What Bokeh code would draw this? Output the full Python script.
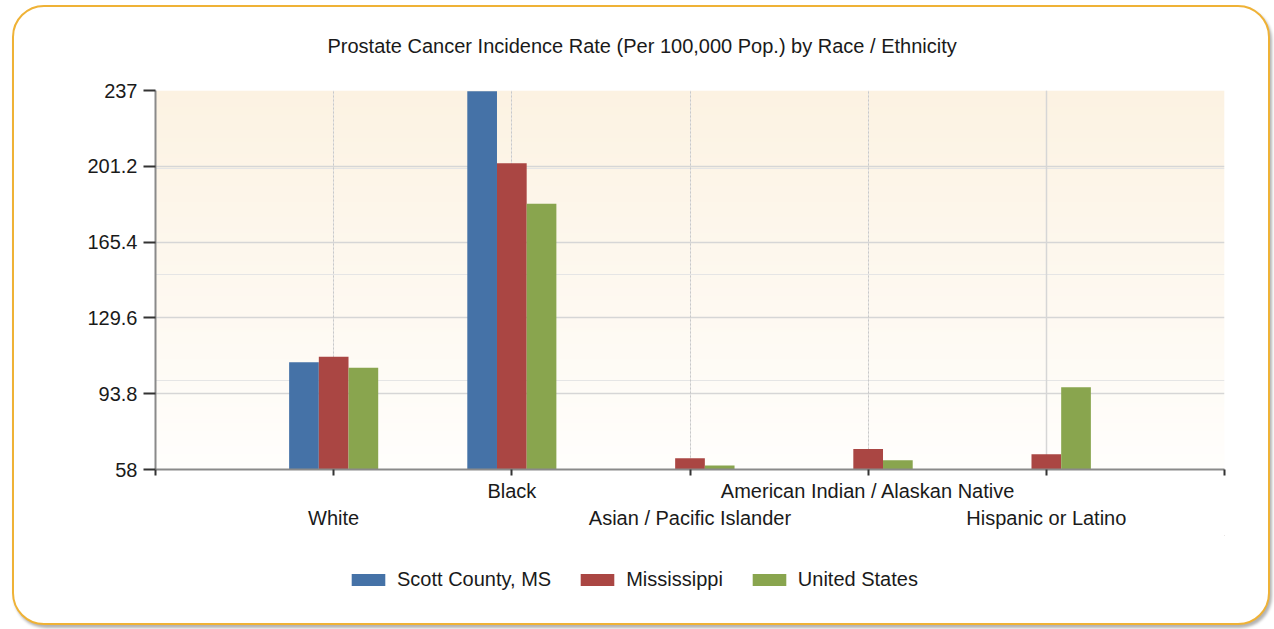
import numpy as np
from bokeh.plotting import figure
from bokeh.layouts import column
from bokeh.models import (Range1d, FixedTicker, LinearAxis, Grid, Legend, LegendItem,
                          ColumnDataSource, CustomJSTickFormatter, Label)
from bokeh.embed import file_html
from bokeh.resources import INLINE

# ---------------- data ----------------
title_text = "Prostate Cancer Incidence Rate (Per 100,000 Pop.) by Race / Ethnicity"
categories = ["White", "Black", "Asian / Pacific Islander",
              "American Indian / Alaskan Native", "Hispanic or Latino"]
series_names = ["Scott County, MS", "Mississippi", "United States"]
scott_county = [108.6, 236.6, np.nan, np.nan, np.nan]
mississippi = [111.3, 202.6, 63.3, 67.7, 65.2]
united_states = [106.1, 183.5, 59.9, 62.4, 96.9]
y_ticks = [58, 93.8, 129.6, 165.4, 201.2, 237]
colors = ["#4572a7", "#aa4643", "#89a54e"]

FONT = "Liberation Sans"
TXT = "#1a1a1a"

n = len(categories)
positions = list(range(1, n + 1))

W = 1254
H0 = 62
H1 = 466
H2 = 88


def blank_strip(height):
    f = figure(width=W, height=height, output_backend="svg", toolbar_location=None,
               x_range=Range1d(0, 1), y_range=Range1d(0, 1), min_border=0,
               x_axis_location=None, y_axis_location=None)
    f.border_fill_color = None
    f.background_fill_color = None
    f.outline_line_color = None
    f.xgrid.visible = False
    f.ygrid.visible = False
    f.title.text_font_size = "1px"
    f.title.standoff = 0
    return f


# ---------------- title strip ----------------
tf = blank_strip(H0)
tf.add_layout(Label(x=172, y=24, x_units="screen", y_units="screen", text=title_text,
                    text_align="left", text_baseline="middle", text_font=FONT,
                    text_font_size="20px", text_color=TXT))

# ---------------- main chart ----------------
p = figure(width=W, height=H1, output_backend="svg", toolbar_location=None,
           x_range=Range1d(0, n + 1), y_range=Range1d(y_ticks[0], y_ticks[-1]),
           min_border_left=141, min_border_right=44, min_border_top=21,
           min_border_bottom=66, x_axis_location=None, y_axis_location=None)
p.border_fill_color = None
p.background_fill_color = None
p.outline_line_color = None
p.title.text_font_size = "1px"
p.title.standoff = 0

# background gradient of the plot area
rows, ncol = 96, 8
top_c = np.array([252, 242, 226], dtype=float)
bot_c = np.array([255, 254, 252], dtype=float)
t = np.linspace(0, 1, rows)[:, None]
cols = np.round(bot_c * (1 - t) + top_c * t).astype(np.uint32)
packed = (255 << 24) | (cols[:, 2] << 16) | (cols[:, 1] << 8) | cols[:, 0]
img = np.repeat(packed[:, None], ncol, axis=1).astype(np.uint32)
p.image_rgba(image=[img], x=0, y=y_ticks[0], dw=n + 1, dh=y_ticks[-1] - y_ticks[0],
             level="image")

# grids
p.add_layout(Grid(dimension=1, ticker=FixedTicker(ticks=y_ticks),
                  grid_line_color="#d6d6d6", grid_line_width=1.5))
p.add_layout(Grid(dimension=0, ticker=FixedTicker(ticks=[1, 2, 3, 4, n + 1]),
                  grid_line_color="#c8c8c8", grid_line_dash="2 2"))
p.add_layout(Grid(dimension=0, ticker=FixedTicker(ticks=[5]),
                  grid_line_color="#d6d6d6", grid_line_width=1.5))

# bars
bar_w = 1 / 6
offsets = [-bar_w, 0, bar_w]
for name, vals, off, c in zip(series_names, [scott_county, mississippi, united_states],
                              offsets, colors):
    src = ColumnDataSource(dict(x=[pp + off for pp in positions], top=vals,
                                cat=categories))
    p.vbar(x="x", top="top", bottom=y_ticks[0], width=bar_w, source=src,
           fill_color=c, line_color=None)

# y axis
yaxis = LinearAxis(ticker=FixedTicker(ticks=y_ticks),
                   formatter=CustomJSTickFormatter(code="return String(tick);"))
yaxis.axis_line_color = "#8a8a8a"
yaxis.axis_line_width = 2
yaxis.major_tick_line_color = "#333333"
yaxis.major_tick_line_width = 2
yaxis.major_tick_out = 12
yaxis.major_tick_in = 0
yaxis.minor_tick_line_color = None
yaxis.major_label_standoff = 6
yaxis.major_label_text_font = FONT
yaxis.major_label_text_font_size = "20px"
yaxis.major_label_text_color = TXT
p.add_layout(yaxis, "left")

# x axes (staggered labels)
upper = [c if i % 2 == 1 else "" for i, c in enumerate(categories)]
lower = [c if i % 2 == 0 else "" for i, c in enumerate(categories)]
fmt_code = "const i = Math.round(tick) - 1; return (i >= 0 && i < labels.length) ? labels[i] : '';"

xaxis1 = LinearAxis(ticker=FixedTicker(ticks=list(range(0, n + 2))),
                    formatter=CustomJSTickFormatter(args=dict(labels=upper), code=fmt_code))
xaxis1.axis_line_color = "#8a8a8a"
xaxis1.axis_line_width = 2
xaxis1.major_tick_line_color = "#333333"
xaxis1.major_tick_line_width = 2
xaxis1.major_tick_out = 6
xaxis1.major_tick_in = 0
xaxis1.minor_tick_line_color = None
xaxis1.major_label_standoff = 4
xaxis1.major_label_text_font = FONT
xaxis1.major_label_text_font_size = "20px"
xaxis1.major_label_text_color = TXT
p.add_layout(xaxis1, "below")

xaxis2 = LinearAxis(ticker=FixedTicker(ticks=positions),
                    formatter=CustomJSTickFormatter(args=dict(labels=lower), code=fmt_code))
xaxis2.axis_line_color = None
xaxis2.major_tick_line_color = None
xaxis2.minor_tick_line_color = None
xaxis2.major_tick_out = 0
xaxis2.major_tick_in = 0
xaxis2.major_label_standoff = 2
xaxis2.major_label_text_font = FONT
xaxis2.major_label_text_font_size = "20px"
xaxis2.major_label_text_color = TXT
p.add_layout(xaxis2, "below")

# ---------------- legend strip ----------------
lf = blank_strip(H2)
items = []
for name, c in zip(series_names, colors):
    # one off-screen bar so that the legend swatch gets drawn
    r = lf.vbar(x=[5], top=[5], bottom=[4], width=0.1, fill_color=c, line_color=None)
    items.append(LegendItem(label=name, renderers=[r]))
legend = Legend(items=items, orientation="horizontal", location=(192, 32),
                glyph_width=42, glyph_height=15, label_standoff=8, spacing=25,
                padding=5, margin=0, border_line_color=None,
                background_fill_alpha=0, label_text_font=FONT,
                label_text_font_size="20px", label_text_color=TXT)
lf.add_layout(legend, "center")

layout = column(tf, p, lf, spacing=0)
layout.styles = {"border": "2px solid #efb236", "border-radius": "32px",
                 "background-color": "white", "margin-left": "12px", "margin-top": "5px",
                 "box-shadow": "2px 3px 3px rgba(0,0,0,0.30)"}

open("out.html", "w").write(file_html(layout, INLINE))
